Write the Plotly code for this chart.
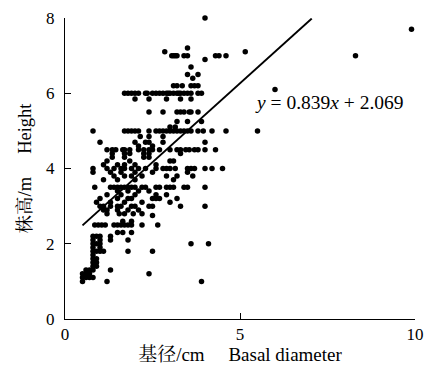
import plotly.graph_objects as go

# Heights (m) and the basal diameters (cm) of points at each height
rows = {
    8.0: [4.0],
    7.7: [9.9],
    7.2: [3.5],
    7.1: [2.85, 5.15],
    7.0: [3.05, 3.15, 3.1, 3.2, 3.4, 3.5, 4.3, 4.4, 4.6, 8.3],
    6.9: [4.0],
    6.7: [3.6],
    6.5: [3.5, 3.8],
    6.4: [3.65],
    6.2: [3.1, 3.2, 3.35, 3.6, 3.7, 3.8],
    6.1: [6.0],
    6.0: [1.7, 1.8, 1.9, 2.0, 2.1, 2.3, 2.35, 2.5, 2.6, 2.7, 2.8, 2.9, 2.95, 3.0,
          3.1, 3.2, 3.25, 3.3, 3.4, 3.5, 3.6, 3.8, 3.9],
    5.85: [2.0, 2.4, 2.9, 3.3, 3.6],
    5.5: [2.4, 2.8, 3.2, 3.3, 3.4, 3.55, 3.6, 3.8],
    5.25: [3.2, 3.5, 3.9],
    5.1: [3.0, 3.15],
    5.0: [0.8, 1.7, 1.8, 1.9, 2.0, 2.1, 2.4, 2.6, 2.7, 2.8, 2.9, 3.0, 3.1, 3.2, 3.3,
          3.4, 3.5, 3.6, 3.8, 3.95, 4.2, 4.6, 5.5],
    4.85: [2.15, 2.4, 2.8],
    4.7: [1.0, 2.0, 2.3, 2.4, 2.8, 4.0],
    4.6: [2.1, 2.5],
    4.5: [1.2, 1.35, 1.45, 1.65, 1.7, 1.85, 2.1, 2.25, 2.4, 2.5, 2.7, 3.0, 3.2, 3.3,
          3.45, 3.55, 3.7, 3.8, 4.0, 4.3],
    4.4: [1.35, 1.7, 1.85, 2.25, 2.4, 3.3],
    4.3: [1.35, 1.7, 2.25, 2.4],
    4.2: [1.2, 1.85, 3.0, 3.1],
    4.1: [1.1, 1.5, 1.7, 2.0, 2.6],
    4.0: [0.8, 1.2, 1.4, 1.6, 1.7, 1.9, 2.1, 2.3, 2.6, 2.8, 2.9, 3.0, 3.15, 3.5, 3.6,
          3.7, 4.0, 4.2, 4.5],
    3.9: [0.8, 1.3, 1.6, 2.0, 2.5, 3.5],
    3.8: [1.4, 1.7, 1.9, 2.2, 2.9, 3.2, 3.65],
    3.7: [1.1, 1.5, 2.0, 3.1],
    3.5: [0.85, 1.3, 1.4, 1.5, 1.6, 1.7, 1.8, 1.9, 2.0, 2.2, 2.3, 2.6, 2.7, 2.9, 3.0,
          3.1, 3.4, 3.5, 4.0],
    3.4: [1.5, 1.8, 2.1, 2.4],
    3.3: [1.2, 1.6, 2.0, 2.6, 2.9],
    3.2: [1.0, 1.5, 1.8, 1.9, 2.5, 2.6, 2.7, 3.2],
    3.1: [0.9, 1.3, 1.7, 2.2, 3.0],
    3.0: [1.0, 1.1, 1.3, 1.5, 1.6, 1.9, 2.0, 2.4, 2.5, 3.3, 4.0],
    2.9: [1.1, 1.2, 1.5, 1.8, 2.1],
    2.8: [1.2, 1.55, 1.7, 1.95, 2.2],
    2.75: [2.5],
    2.6: [1.65, 1.9],
    2.5: [0.85, 0.95, 1.05, 1.15, 1.4, 1.5, 1.6, 1.7, 1.8, 1.9, 2.2, 2.65],
    2.3: [1.5, 1.65, 1.9],
    2.2: [0.8, 0.9, 1.0, 1.3],
    2.1: [0.8, 1.0, 1.3, 1.8],
    2.0: [0.8, 0.9, 1.0, 3.6, 4.1],
    1.9: [0.8, 1.0],
    1.8: [0.8, 0.9, 1.0, 1.1, 1.8, 2.5],
    1.7: [0.8],
    1.6: [0.8, 0.9],
    1.5: [0.8, 0.9],
    1.4: [0.8, 0.9],
    1.3: [0.6, 0.7, 0.8, 1.3],
    1.2: [0.5, 0.6, 0.7, 2.4],
    1.1: [0.5, 0.6, 0.7, 0.8],
    1.0: [0.5, 1.2, 3.9],
}

diameter = [x for h, xs in rows.items() for x in xs]
height = [h for h, xs in rows.items() for x in xs]

slope, intercept = 0.839, 2.069
fit_x = [0.5, 7.05]
fit_y = [slope * v + intercept for v in fit_x]

x_ticks = [0, 5, 10]
y_ticks = [0, 2, 4, 6, 8]

serif = "Liberation Serif, Noto Serif CJK SC, Noto Sans CJK SC, serif"

fig = go.Figure()
fig.add_trace(go.Scatter(x=diameter, y=height, mode="markers",
                         marker=dict(color="black", size=5.5, line=dict(width=0)),
                         cliponaxis=False, showlegend=False, hoverinfo="skip"))
fig.add_trace(go.Scatter(x=fit_x, y=fit_y, mode="lines",
                         line=dict(color="black", width=2), showlegend=False,
                         hoverinfo="skip"))

fig.add_annotation(x=5.38, y=5.75, xref="x", yref="y", xanchor="left", yanchor="middle",
                   text="<i>y</i> = 0.839<i>x</i> + 2.069", showarrow=False,
                   font=dict(family=serif, size=19.5, color="black"))

# y-axis title as a rotated annotation
fig.add_annotation(x=0, y=0.5, xref="paper", yref="paper", xanchor="center",
                   yanchor="middle", xshift=-41, textangle=-90,
                   text="株高/m　 Height", showarrow=False,
                   font=dict(family=serif, size=18.5, color="black"))

fig.update_layout(
    width=429, height=366,
    margin=dict(l=65, r=14, t=18, b=47, autoexpand=False),
    paper_bgcolor="white", plot_bgcolor="white",
    font=dict(family=serif, size=17, color="black"),
    xaxis=dict(range=[0, 10], tickvals=x_ticks, ticks="inside", ticklen=6,
               tickcolor="black", showline=True, linecolor="black", linewidth=1,
               showgrid=False, zeroline=False, tickfont=dict(size=17),
               automargin=False,
               title=dict(text="基径/cm　 Basal diameter", standoff=2,
                          font=dict(family=serif, size=19))),
    yaxis=dict(range=[0, 8], tickvals=y_ticks, ticks="inside", ticklen=6,
               tickcolor="black", showline=True, linecolor="black", linewidth=1,
               showgrid=False, zeroline=False, tickfont=dict(size=17),
               ticklabelstandoff=6, automargin=False),
)

fig.write_html("out.html", config={"displayModeBar": False},
               post_script="document.body.style.margin='0';document.body.style.overflow='hidden';")
